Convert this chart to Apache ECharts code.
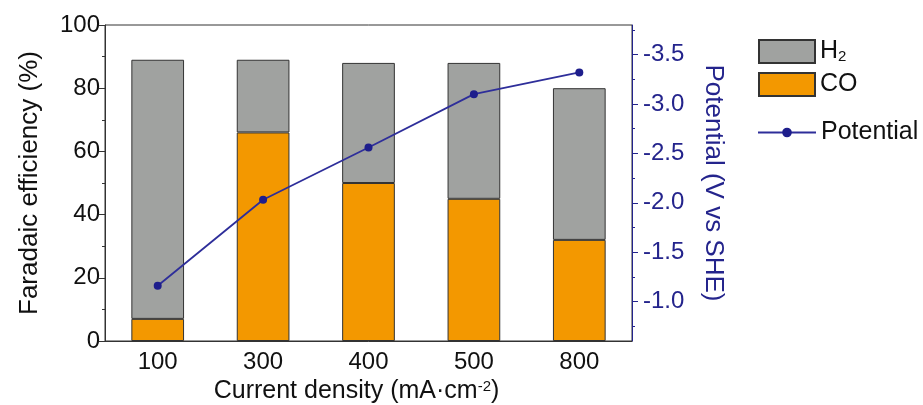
<!DOCTYPE html>
<html>
<head>
<meta charset="utf-8">
<script src="https://cdn.jsdelivr.net/npm/echarts@6/dist/echarts.min.js"></script>
<style>html,body{margin:0;padding:0;background:#fff;}#c{width:923px;height:405px;}</style>
</head>
<body>
<div id="c"></div>
<script>
const categories = ['100', '300', '400', '500', '800'];
const coValues = [7, 66, 50, 45, 32];
const h2Values = [82, 23, 38, 43, 48];
const potentialValues = [-1.16, -2.03, -2.56, -3.10, -3.32];
const potentialMajorTicks = [-3.5, -3.0, -2.5, -2.0, -1.5, -1.0];
const potentialMinorTicks = [-3.75, -3.25, -2.75, -2.25, -1.75, -1.25, -0.75];

const FONT = 'Liberation Sans, Arial, sans-serif';
const NAVY = '#24248c';
const chart = echarts.init(document.getElementById('c'));
chart.setOption({
  animation: false,
  backgroundColor: '#fff',
  textStyle: { fontFamily: FONT },
  grid: { left: 105, right: 291, top: 25, bottom: 64, containLabel: false, outerBoundsMode: 'none',
    show: true, borderColor: '#333', borderWidth: 1, backgroundColor: 'transparent' },
  legend: [
    {
      data: ['H2', 'CO'], orient: 'vertical', left: 753, top: 34, icon: 'rect',
      itemWidth: 56, itemHeight: 23, itemGap: 8,
      formatter: function (n) { return n === 'H2' ? 'H{sub|2}' : n; },
      textStyle: { fontSize: 25, color: '#111', fontFamily: FONT, padding: [0, 0, 0, 0],
        rich: { sub: { fontSize: 15, color: '#111', fontFamily: FONT, verticalAlign: 'bottom', padding: [8, 0, 0, 0] } } }
    },
    {
      data: ['Potential'], orient: 'vertical', left: 752, top: 115,
      itemWidth: 58, itemHeight: 12,
      textStyle: { fontSize: 25, color: '#111', fontFamily: FONT, padding: [0, 0, 0, 0] }
    }
  ],
  xAxis: {
    type: 'category', data: categories,
    axisLine: { lineStyle: { color: '#333', width: 1 } },
    axisTick: { show: false },
    axisLabel: { fontSize: 24, color: '#111', margin: 9, fontFamily: FONT },
    name: 'Current density (mA·cm{sup|-2})', nameLocation: 'middle', nameGap: 36,
    nameTextStyle: { fontSize: 25, color: '#111', fontFamily: FONT, padding: [0, 24, 0, 0],
      rich: { sup: { fontSize: 15, color: '#111', fontFamily: FONT, verticalAlign: 'top', padding: [0, 0, 10, 0] } } }
  },
  yAxis: [
    {
      type: 'value', min: 0, max: 100, interval: 20, position: 'left',
      axisLine: { show: true, lineStyle: { color: '#333', width: 1 } },
      axisTick: { show: true, length: 6, lineStyle: { color: '#333' } },
      minorTick: { show: true, splitNumber: 2, length: 3, lineStyle: { color: '#333' } },
      splitLine: { show: false },
      axisLabel: { fontSize: 24, color: '#111', margin: 5, fontFamily: FONT },
      name: 'Faradaic efficiency (%)', nameLocation: 'middle', nameGap: 62,
      nameTextStyle: { fontSize: 26, color: '#111', fontFamily: FONT }
    },
    {
      type: 'value', min: -3.8, max: -0.6, inverse: true, position: 'right',
      axisLine: { show: true, lineStyle: { color: NAVY, width: 1 } },
      axisTick: { show: true, length: 6, customValues: potentialMajorTicks, lineStyle: { color: NAVY } },
      splitLine: { show: false },
      axisLabel: { fontSize: 24, color: NAVY, margin: 11, fontFamily: FONT,
        customValues: potentialMajorTicks, formatter: function (v) { return v.toFixed(1); } },
      name: 'Potential (V vs SHE)', nameLocation: 'middle', nameGap: 68, nameRotate: -90,
      nameTextStyle: { fontSize: 26, color: NAVY, fontFamily: FONT }
    },
    {
      type: 'value', min: -3.8, max: -0.6, inverse: true, position: 'right',
      axisLine: { show: false },
      axisTick: { show: true, length: 3, customValues: potentialMinorTicks, lineStyle: { color: NAVY } },
      splitLine: { show: false },
      axisLabel: { show: false }
    }
  ],
  series: [
    {
      name: 'CO', type: 'bar', stack: 'fe', data: coValues, barWidth: '50%',
      itemStyle: { color: '#f39800', borderColor: '#333', borderWidth: 1 }
    },
    {
      name: 'H2', type: 'bar', stack: 'fe', data: h2Values, barWidth: '50%',
      itemStyle: { color: '#a0a2a0', borderColor: '#333', borderWidth: 1 }
    },
    {
      name: 'Potential', type: 'line', yAxisIndex: 1, data: potentialValues,
      symbol: 'circle', symbolSize: 8, z: 5,
      lineStyle: { color: '#2e2e9a', width: 1.8 },
      itemStyle: { color: '#1e1e8c' }
    }
  ]
});
</script>
</body>
</html>
